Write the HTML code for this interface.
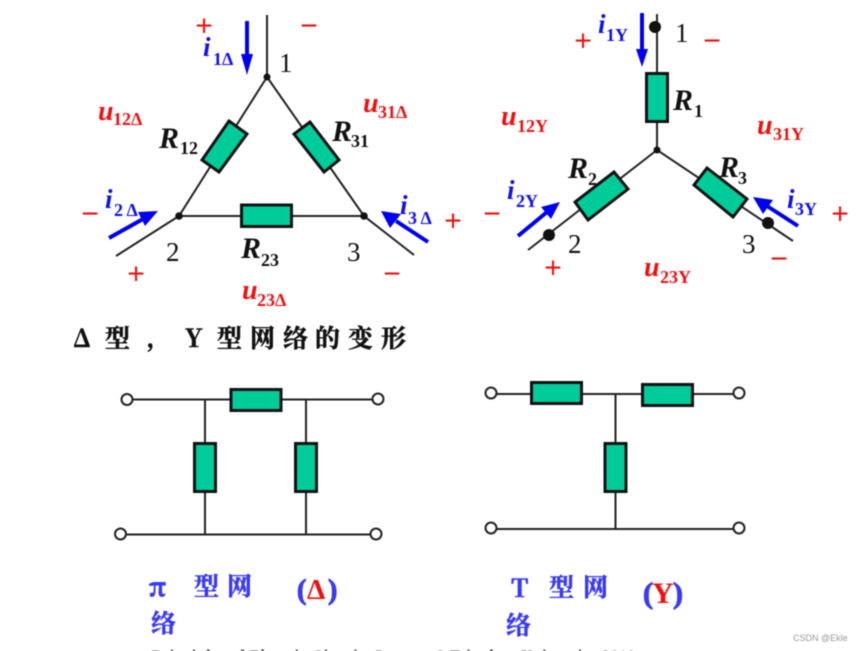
<!DOCTYPE html>
<html><head><meta charset="utf-8"><style>
html,body{margin:0;padding:0;background:#fff;width:863px;height:651px;overflow:hidden}
svg{display:block;filter:blur(.4px)}
text{font-family:"Liberation Serif","Noto Serif CJK SC",serif}
.i{font-style:italic;font-weight:bold}
.b{font-weight:bold}
.s{font-weight:bold}
.red{fill:#f01010}.blue{fill:#1010f0}
.res{fill:#00cc99;stroke:#111;stroke-width:3}
.w{stroke:#222;stroke-width:2;fill:none}
.a{stroke:#0000f0;stroke-width:4;fill:none}
.h{fill:#0000f0;stroke:none}
.pm{font-family:"Liberation Sans",sans-serif;font-size:30px;fill:#f01010;text-anchor:middle;transform:translateY(1.5px)}
.n{font-size:27px;fill:#111}
.R{font-size:30px;font-style:italic;font-weight:bold;fill:#111}
.Rs{font-size:18px;font-weight:bold;fill:#111}
.t{font-family:"Noto Serif CJK SC","Liberation Serif",serif;font-weight:bold;font-size:25px;stroke-width:.5px}
.d{fill:#111;stroke:#111}
.p{fill:#3a3af5;stroke:#3a3af5}
.c{fill:#fff;stroke:#222;stroke-width:2}
</style></head><body>
<svg width="863" height="651" viewBox="0 0 863 651" xmlns="http://www.w3.org/2000/svg">
<!-- Delta -->
<path class="w" d="M267 15V77L364 216L414 255M267 77L179 216L116 256M179 216H364"/>
<polygon class="res" points="229,121 247,134 219,172 202,160"/>
<polygon class="res" points="310,122 339,160 324,172 294,134"/>
<rect class="res" x="241.500" y="205" width="50" height="21.500"/>
<circle cx="267" cy="77" r="3.500" fill="#111"/><circle cx="179" cy="216" r="3.800" fill="#111"/><circle cx="364" cy="216" r="3.800" fill="#111"/>
<path class="a" d="M247 21V58M109 238L143 219M428 242L396 221"/>
<polygon class="h" points="241,54 253,54 247,75"/>
<polygon class="h" points="138,212 158,211 145,226"/>
<polygon class="h" points="381,211 401,214 390,228"/>
<text class="pm" x="204" y="34">+</text><text class="pm" x="309" y="34">−</text>
<text class="pm" x="90" y="222">−</text><text class="pm" x="136" y="282">+</text>
<text class="pm" x="453" y="229">+</text><text class="pm" x="392" y="282">−</text>
<text class="n" x="279" y="72">1</text><text class="n" x="166" y="261">2</text><text class="n" x="347" y="261">3</text>
<text class="R" x="159" y="148">R</text><text class="Rs" x="180" y="154">12</text>
<text class="R" x="332" y="141">R</text><text class="Rs" x="351" y="147">31</text>
<text class="R" x="241" y="258">R</text><text class="Rs" x="261" y="266">23</text>
<text class="i blue" font-size="27" x="203" y="56">i</text><text class="s blue" font-size="18" x="213" y="65">1Δ</text>
<text class="i blue" font-size="27" x="105" y="208">i</text><text class="s blue" font-size="18" x="114" y="216">2 Δ</text>
<text class="i blue" font-size="27" x="400" y="214">i</text><text class="s blue" font-size="18" x="408" y="224">3 Δ</text>
<text class="i red" font-size="28" x="98" y="120">u</text><text class="s red" font-size="18" x="113" y="125">12Δ</text>
<text class="i red" font-size="28" x="363" y="112">u</text><text class="s red" font-size="18" x="378" y="118">31Δ</text>
<text class="i red" font-size="28" x="242" y="299">u</text><text class="s red" font-size="18" x="257" y="306">23Δ</text>
<!-- Y -->
<path class="w" d="M657 14V150L793 241M657 150L528 250"/>
<rect class="res" x="646.500" y="73.500" width="21" height="48"/>
<polygon class="res" points="614,172 628,189 588,220 575,202"/>
<polygon class="res" points="707,168 747,199 733,217 694,185"/>
<circle cx="655" cy="27" r="6" fill="#111"/><circle cx="549" cy="235" r="6" fill="#111"/><circle cx="768" cy="223" r="6" fill="#111"/><circle cx="657" cy="150" r="3.500" fill="#111"/>
<path class="a" d="M642 13V50M518 236L547 212M798 226L767 206"/>
<polygon class="h" points="636,49 648,49 642,67"/>
<polygon class="h" points="541,207 560,202 551,219"/>
<polygon class="h" points="753,197 773,200 763,214"/>
<text class="pm" x="583" y="49">+</text><text class="pm" x="712" y="49">−</text>
<text class="pm" x="492" y="222">−</text><text class="pm" x="553" y="276">+</text>
<text class="pm" x="840" y="222">+</text><text class="pm" x="779" y="267">−</text>
<text class="n" x="675" y="42">1</text><text class="n" x="568" y="253">2</text><text class="n" x="742" y="253">3</text>
<text class="R" x="673" y="110">R</text><text class="Rs" x="694" y="117">1</text>
<text class="R" x="568" y="178">R</text><text class="Rs" x="588" y="185">2</text>
<text class="R" x="719" y="177">R</text><text class="Rs" x="738" y="184">3</text>
<text class="i blue" font-size="27" x="598" y="33">i</text><text class="s blue" font-size="18" x="606" y="41">1Y</text>
<text class="i blue" font-size="27" x="507" y="199">i</text><text class="s blue" font-size="18" x="516" y="207">2Y</text>
<text class="i blue" font-size="27" x="787" y="208">i</text><text class="s blue" font-size="18" x="795" y="215">3Y</text>
<text class="i red" font-size="28" x="501" y="125">u</text><text class="s red" font-size="18" x="517" y="132">12Y</text>
<text class="i red" font-size="28" x="757" y="134">u</text><text class="s red" font-size="18" x="773" y="140">31Y</text>
<text class="i red" font-size="28" x="644" y="276">u</text><text class="s red" font-size="18" x="660" y="283">23Y</text>
<!-- Title -->
<text class="t d" x="73" y="347" font-size="24">Δ</text>
<text class="t d" x="105" y="347">型</text>
<text class="t d" x="146" y="347">,</text>
<text class="t d" x="185" y="347">Y</text>
<text class="t d" x="217" y="347">型</text><text class="t d" x="250" y="347">网</text><text class="t d" x="283" y="347">络</text><text class="t d" x="315" y="347">的</text><text class="t d" x="348" y="347">变</text><text class="t d" x="381" y="347">形</text>
<!-- Pi -->
<path class="w" d="M133 399.500H372M205 399.500V534.500M306 399.500V534.500M126 534.500H370"/>
<rect class="res" x="231" y="389.500" width="50" height="21"/>
<rect class="res" x="194.500" y="443.500" width="21" height="48"/>
<rect class="res" x="295.500" y="443.500" width="21" height="48"/>
<circle class="c" cx="127" cy="399.500" r="5.500"/><circle class="c" cx="378" cy="399" r="5.500"/><circle class="c" cx="120.500" cy="534" r="5.500"/><circle class="c" cx="376" cy="534" r="5.500"/>
<!-- T -->
<path class="w" d="M497 394H733M615.500 394V529M497 529H733"/>
<rect class="res" x="531.500" y="382.500" width="50" height="21"/>
<rect class="res" x="642.500" y="384.500" width="50" height="21"/>
<rect class="res" x="605" y="443.500" width="21" height="48"/>
<circle class="c" cx="491" cy="393" r="5.500"/><circle class="c" cx="739" cy="393" r="5.500"/><circle class="c" cx="491" cy="528" r="5.500"/><circle class="c" cx="739" cy="528" r="5.500"/>
<!-- Captions -->
<text class="t p" x="149" y="596" font-size="32" style="stroke-width:1px">π</text>
<text class="t p" x="194" y="595">型</text><text class="t p" x="227" y="595">网</text>
<text class="t p" x="151" y="632">络</text>
<text class="b p" x="297" y="599" font-size="28">(</text><text class="b" fill="#f01010" x="307" y="599" font-size="29">Δ</text><text class="b p" x="328" y="599" font-size="28">)</text>
<text class="t p" x="511" y="597" font-size="28">T</text>
<text class="t p" x="549" y="596">型</text><text class="t p" x="583" y="596">网</text>
<text class="t p" x="506" y="634">络</text>
<text class="b p" x="643" y="603" font-size="30">(</text><text class="b" fill="#f01010" x="652" y="603" font-size="30">Y</text><text class="b p" x="673" y="603" font-size="30">)</text>
<!-- Clipped footer -->
<text x="152" y="660" font-size="15" font-weight="bold" fill="#222" textLength="483" lengthAdjust="spacing">Principles of Electric Circuits Lecture 3 Tsinghua University 2010</text>
<text x="793" y="641" font-size="9" fill="#999" style="font-family:'Liberation Sans',sans-serif">CSDN @Ekle</text>
</svg>
</body></html>
